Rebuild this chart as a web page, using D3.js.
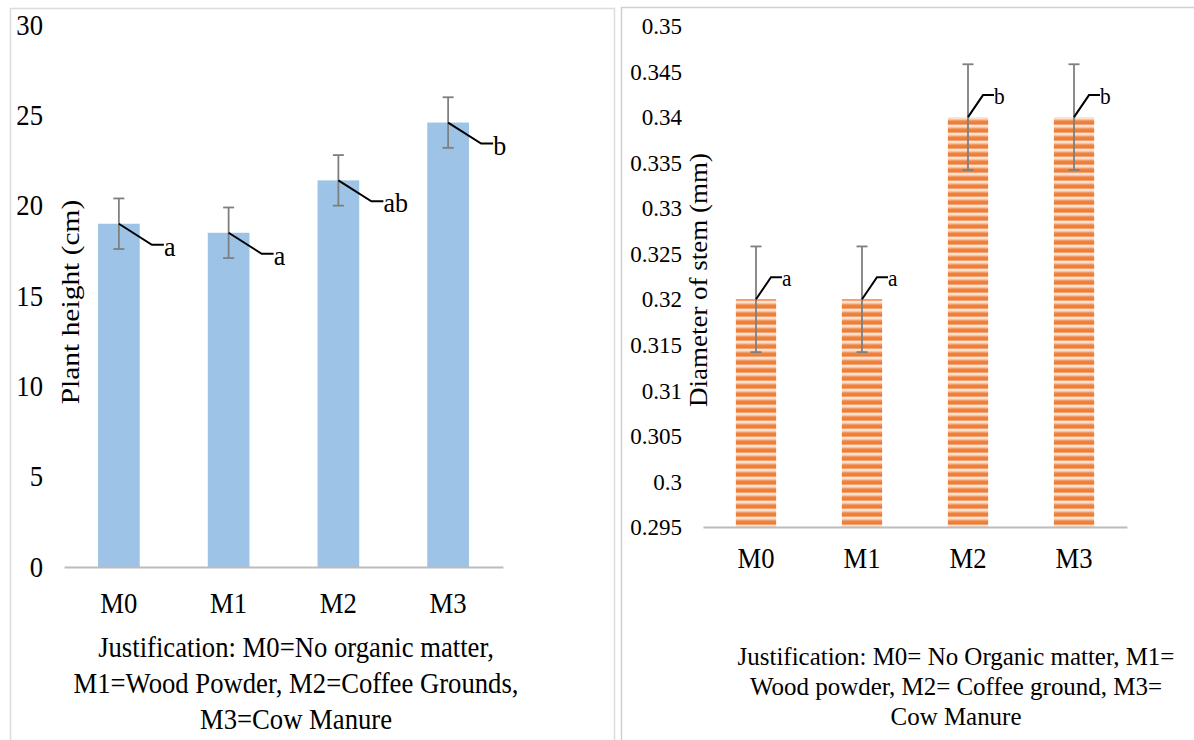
<!DOCTYPE html>
<html>
<head>
<meta charset="utf-8">
<script src="https://cdn.jsdelivr.net/npm/d3@7"></script>
<style>
  html, body { margin: 0; padding: 0; background: #fff; }
  svg { display: block; }
  svg text { font-family: "Liberation Serif", "DejaVu Serif", "Noto Serif", serif !important; fill: #000; }
</style>
</head>
<body>
<svg id="chart" width="1194" height="740"></svg>
<script>
// ---------- DATA ----------
const categories = ["M0", "M1", "M2", "M3"];

// Left chart: plant height (cm)
const heightValues = [19.0, 18.5, 21.4, 24.6];
const heightErrors = [1.4, 1.4, 1.4, 1.4];
const heightLetters = ["a", "a", "ab", "b"];
const heightTicks = [0, 5, 10, 15, 20, 25, 30];
const heightTitle = "Plant height (cm)";
const heightCaption = [
  "Justification: M0=No organic matter,",
  "M1=Wood Powder, M2=Coffee Grounds,",
  "M3=Cow Manure"
];

// Right chart: stem diameter (mm)
const stemValues = [0.32, 0.32, 0.34, 0.34];
const stemErrors = [0.0058, 0.0058, 0.0058, 0.0058];
const stemLetters = ["a", "a", "b", "b"];
const stemTicks = [0.295, 0.3, 0.305, 0.31, 0.315, 0.32, 0.325, 0.33, 0.335, 0.34, 0.345, 0.35];
const stemTickLabels = ["0.295", "0.3", "0.305", "0.31", "0.315", "0.32", "0.325", "0.33", "0.335", "0.34", "0.345", "0.35"];
const stemTitle = "Diameter of stem (mm)";
const stemCaption = [
  "Justification: M0= No Organic matter, M1=",
  "Wood powder, M2= Coffee ground, M3=",
  "Cow Manure"
];

// ---------- DRAWING ----------
const FONT = "'Liberation Serif', 'DejaVu Serif', serif";
const svg = d3.select("#chart");

// defs: striped orange pattern
const defs = svg.append("defs");
const grad = defs.append("linearGradient").attr("id", "stripeGrad")
  .attr("x1", 0).attr("y1", 0).attr("x2", 0).attr("y2", 1);
[[0, "#f7b38a"], [0.12, "#ee8444"], [0.45, "#ed7d31"], [0.58, "#f4a97c"],
 [0.72, "#fff3ea"], [0.88, "#f9cfb5"], [1, "#f7b38a"]].forEach(([o, c]) =>
  grad.append("stop").attr("offset", o).attr("stop-color", c));
const pat = defs.append("pattern").attr("id", "stripes")
  .attr("patternUnits", "userSpaceOnUse").attr("width", 10).attr("height", 8);
pat.append("rect").attr("width", 10).attr("height", 8).attr("fill", "url(#stripeGrad)");

// panel frames
svg.append("rect").attr("x", 10.5).attr("y", 8.5).attr("width", 604).attr("height", 740)
  .attr("fill", "none").attr("stroke", "#dcdcdc").attr("stroke-width", 1.5);
svg.append("rect").attr("x", 621.5).attr("y", 7.5).attr("width", 580).attr("height", 740)
  .attr("fill", "none").attr("stroke", "#d0d0d0").attr("stroke-width", 1.5);

function scaledText(g, x, y, str, size, sx, anchor) {
  return g.append("text")
    .attr("transform", `translate(${x},${y}) scale(${sx},1)`)
    .style("font-family", FONT)
    .attr("font-size", size)
    .attr("text-anchor", anchor || "start")
    .text(str);
}

function drawChart(cfg) {
  const g = svg.append("g");
  const x = d3.scaleBand().domain(categories).range(cfg.xRange)
    .paddingInner(0.62).paddingOuter(0.31);
  const y = d3.scaleLinear().domain(cfg.yDomain).range(cfg.yRange);

  // y axis (labels only)
  const yAxis = d3.axisLeft(y).tickValues(cfg.ticks).tickSize(0).tickPadding(0)
    .tickFormat((d, i) => cfg.tickLabels[i]);
  const ya = g.append("g").attr("transform", `translate(${cfg.yLabelRight},0)`).call(yAxis);
  ya.attr("font-family", null);
  ya.select(".domain").remove();
  ya.selectAll("text")
    .style("font-family", FONT)
    .attr("font-size", cfg.tickSize)
    .attr("fill", "#000")
    .attr("transform", `scale(${cfg.tickSx},1)`);

  // bars
  g.selectAll("rect.bar").data(cfg.values).join("rect")
    .attr("class", "bar")
    .attr("x", (d, i) => x(categories[i]))
    .attr("y", d => y(d))
    .attr("width", x.bandwidth())
    .attr("height", d => y(cfg.yDomain[0]) - y(d))
    .attr("fill", cfg.fill);

  // x axis
  const xAxis = d3.axisBottom(x).tickSize(0).tickSizeOuter(0);
  const xa = g.append("g").attr("transform", `translate(0,${y(cfg.yDomain[0])})`).call(xAxis);
  xa.attr("font-family", null);
  xa.select(".domain").attr("stroke", "#bcbcbc").attr("stroke-width", 2.2);
  xa.selectAll("text")
    .attr("y", cfg.catOffset).attr("dy", 0)
    .style("font-family", FONT)
    .attr("font-size", 29)
    .attr("fill", "#000")
    .attr("transform", "scale(0.92,1)");

  // error bars
  const cx = i => x(categories[i]) + x.bandwidth() / 2;
  const eg = g.append("g").attr("stroke", "#7f7f7f").attr("stroke-width", 1.8).attr("fill", "none");
  cfg.values.forEach((v, i) => {
    const c = cx(i), top = y(v + cfg.errors[i]), bot = y(v - cfg.errors[i]);
    eg.append("line").attr("x1", c).attr("x2", c).attr("y1", top).attr("y2", bot);
    eg.append("line").attr("x1", c - 5.5).attr("x2", c + 5.5).attr("y1", top).attr("y2", top);
    eg.append("line").attr("x1", c - 5.5).attr("x2", c + 5.5).attr("y1", bot).attr("y2", bot);
  });

  // significance letters with leader lines
  const lg = g.append("g");
  cfg.values.forEach((v, i) => {
    const c = cx(i), yy = y(v);
    const ex = c + cfg.lead.dx, ey = yy + cfg.lead.dy, hx = ex + cfg.lead.h;
    lg.append("path")
      .attr("d", `M${c},${yy}L${ex},${ey}L${hx},${ey}`)
      .attr("fill", "none").attr("stroke", "#000").attr("stroke-width", 2);
    scaledText(lg, hx, ey + cfg.lead.base, cfg.letters[i], cfg.letterSize, 0.93);
  });

  // y title
  g.append("text")
    .attr("transform", `translate(${cfg.title.x},${cfg.title.y}) scale(${cfg.title.sx},1) rotate(-90)`)
    .attr("text-anchor", "middle")
    .style("font-family", FONT)
    .attr("font-size", cfg.title.size)
    .text(cfg.title.text);

  // caption
  cfg.caption.forEach((line, i) => {
    scaledText(g, cfg.cap.x, cfg.cap.y + i * cfg.cap.dy, line, cfg.cap.size, cfg.cap.sx, "middle");
  });
}

drawChart({
  xRange: [64, 503], yDomain: [0, 30], yRange: [567, 25],
  ticks: heightTicks, tickLabels: heightTicks.map(String),
  yLabelRight: 43, tickSize: 29, tickSx: 0.92,
  values: heightValues, errors: heightErrors, letters: heightLetters,
  fill: "#9dc3e6", catOffset: 46,
  lead: { dx: 33, dy: 21, h: 12, base: 11 }, letterSize: 28,
  title: { text: heightTitle, x: 79, y: 302, size: 29.5, sx: 0.88 },
  caption: heightCaption, cap: { x: 296, y: 657, dy: 36, size: 29, sx: 0.92 }
});

drawChart({
  xRange: [703, 1127], yDomain: [0.295, 0.35], yRange: [527, 26],
  ticks: stemTicks, tickLabels: stemTickLabels,
  yLabelRight: 682, tickSize: 24, tickSx: 0.96,
  values: stemValues, errors: stemErrors, letters: stemLetters,
  fill: "url(#stripes)", catOffset: 41,
  lead: { dx: 15, dy: -22, h: 11, base: 9 }, letterSize: 23,
  title: { text: stemTitle, x: 707, y: 280, size: 27, sx: 0.95 },
  caption: stemCaption, cap: { x: 956, y: 665, dy: 30, size: 26, sx: 0.96 }
});
</script>
</body>
</html>
